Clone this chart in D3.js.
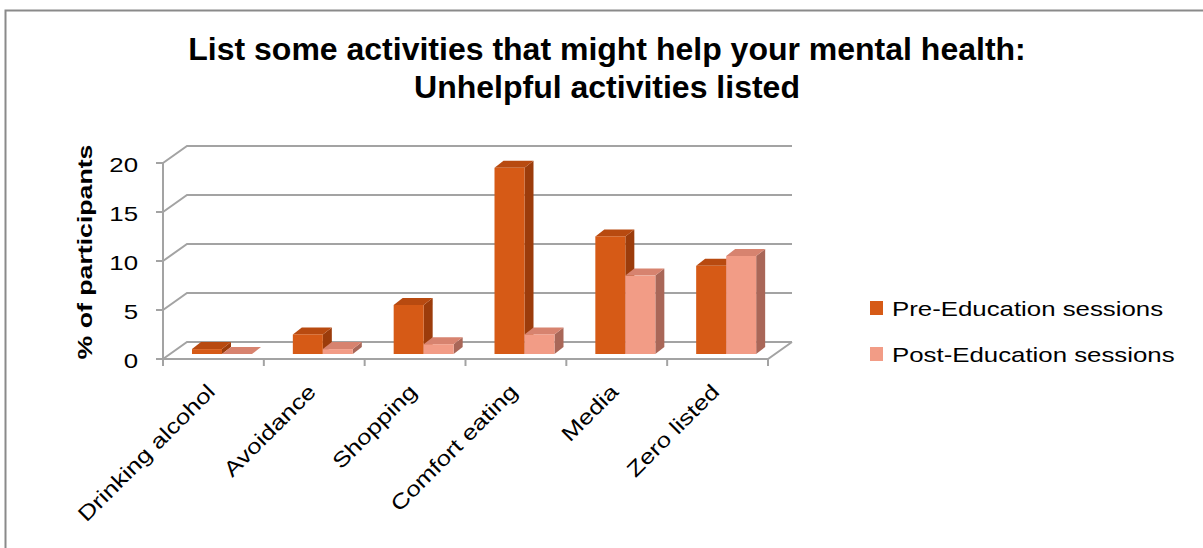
<!DOCTYPE html>
<html>
<head>
<meta charset="utf-8">
<script src="https://cdn.jsdelivr.net/npm/d3@7"></script>
<style>
  html, body { margin: 0; padding: 0; background: #fff; }
  svg { display: block; }
  text { font-family: Arial, "Liberation Sans", sans-serif; fill: #000; }
</style>
</head>
<body>
<svg id="chart" width="1203" height="548"></svg>
<script>
// Chart data
const categories = ["Drinking alcohol", "Avoidance", "Shopping", "Comfort eating", "Media", "Zero listed"];
const preValues  = [0.5, 2, 5, 19, 12, 9];
const postValues = [0, 0.5, 1, 2, 8, 10];
const seriesNames = ["Pre-Education sessions", "Post-Education sessions"];
const yTicks = [0, 5, 10, 15, 20];
const titleLines = ["List some activities that might help your mental health:", "Unhelpful activities listed"];
const yTitle = "% of participants";

const svg = d3.select("#chart");
const wide = 1.23; // horizontal stretch of the body text

// Outer frame
svg.append("rect")
  .attr("x", 5.5).attr("y", 10.5)
  .attr("width", 1210).attr("height", 560)
  .attr("fill", "#fff").attr("stroke", "#8a8a8a").attr("stroke-width", 2);

// Title
svg.append("g").selectAll("text").data(titleLines).join("text")
  .attr("x", 607).attr("y", (d, i) => 60 + i * 38)
  .attr("text-anchor", "middle")
  .attr("font-size", 32).attr("font-weight", "bold")
  .text(d => d);

// 3D plot geometry
const x0 = 163, x1 = 768;            // front floor extent
const yFront0 = 359, yFront1 = 163;  // front axis 0 .. 20
const wallDX = 24, wallDY = -17;     // depth of the back wall
const barShiftX = 7, barShiftY = -5; // bars sit partway into the depth
const barDX = 9, barDY = -7;         // depth of each bar

const x = d3.scaleBand().domain(categories).range([x0, x1]);
const y = d3.scaleLinear().domain([0, 20]).range([yFront0, yFront1]);
const sub = d3.scaleBand().domain([0, 1]).range([22, 82]);

const gridColor = "#a3a3a3";
const grid = svg.append("g").attr("stroke", gridColor).attr("stroke-width", 2).attr("fill", "none");

// Back wall gridlines and left wall diagonals
yTicks.forEach(t => {
  const yf = y(t);
  grid.append("path")
    .attr("d", `M${x0},${yf}L${x0 + wallDX},${yf + wallDY}L${x1 + wallDX},${yf + wallDY}`);
});
// Floor front and right edges
grid.append("path").attr("d", `M${x0},${yFront0}L${x1},${yFront0}L${x1 + wallDX},${yFront0 + wallDY}`);
// Vertical axis
grid.append("path").attr("d", `M${x0},${y(20)}L${x0},${yFront0}`);
// Y ticks
yTicks.forEach(t => {
  grid.append("path").attr("d", `M${x0 - 7},${y(t)}L${x0},${y(t)}`);
});
// Category ticks
const catEdges = categories.map(c => x(c)).concat([x1]);
catEdges.forEach(cx => {
  grid.append("path").attr("d", `M${cx},${yFront0}L${cx},${yFront0 + 7}`);
});

// Y tick labels
svg.append("g").selectAll("text").data(yTicks).join("text")
  .attr("transform", d => `translate(138,${y(d) + 9}) scale(${wide},1)`)
  .attr("text-anchor", "end")
  .attr("font-size", 21)
  .text(d => d);

// Y axis title
svg.append("text")
  .attr("transform", `translate(92,252) rotate(-90) scale(1.27,1)`)
  .attr("text-anchor", "middle")
  .attr("font-size", 21).attr("font-weight", "bold")
  .text(yTitle);

// Category labels
svg.append("g").selectAll("text").data(categories).join("text")
  .attr("transform", d => `translate(${x(d) + x.bandwidth() / 2 + 3},${yFront0 + 34}) rotate(-45) scale(${wide},1)`)
  .attr("text-anchor", "end")
  .attr("font-size", 21)
  .text(d => d);

// Bars
const palettes = [
  { front: "#d65a16", top: "#b84a10", side: "#9c3c0b" },
  { front: "#f29c86", top: "#d7836f", side: "#a96758" }
];
const barW = sub.bandwidth();
const bars = svg.append("g");
categories.forEach((c, i) => {
  [preValues[i], postValues[i]].forEach((v, s) => {
    const p = palettes[s];
    const bx = x(c) + sub(s) + barShiftX;
    const by0 = y(0) + barShiftY;
    const by1 = y(v) + barShiftY;
    const g = bars.append("g");
    // right side face
    g.append("path")
      .attr("d", `M${bx + barW},${by1}L${bx + barW + barDX},${by1 + barDY}L${bx + barW + barDX},${by0 + barDY}L${bx + barW},${by0}Z`)
      .attr("fill", p.side);
    // top face
    g.append("path")
      .attr("d", `M${bx},${by1}L${bx + barDX},${by1 + barDY}L${bx + barW + barDX},${by1 + barDY}L${bx + barW},${by1}Z`)
      .attr("fill", p.top);
    // front face
    g.append("rect")
      .attr("x", bx).attr("y", by1)
      .attr("width", barW).attr("height", by0 - by1)
      .attr("fill", p.front);
  });
});

// Legend
const legend = svg.append("g");
seriesNames.forEach((name, i) => {
  const ly = 316 + i * 46;
  legend.append("rect")
    .attr("x", 870).attr("y", ly - 15)
    .attr("width", 13).attr("height", 14)
    .attr("fill", palettes[i].front);
  legend.append("text")
    .attr("transform", `translate(892,${ly}) scale(${wide},1)`)
    .attr("font-size", 21)
    .text(name);
});
</script>
</body>
</html>
